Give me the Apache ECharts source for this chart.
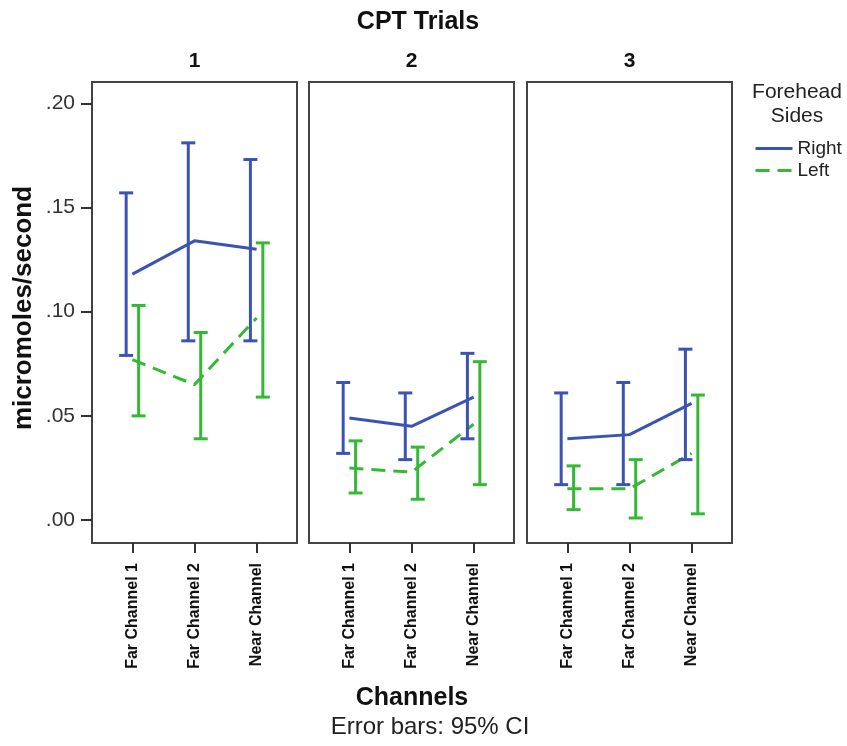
<!DOCTYPE html>
<html>
<head>
<meta charset="utf-8">
<script src="https://cdn.jsdelivr.net/npm/echarts@6/dist/echarts.min.js"></script>
<style>
    html, body { margin: 0; padding: 0; background: #fff; }
    #chart { width: 847px; height: 746px; }
</style>
</head>
<body>
<div id="chart"></div>
<script>
var channels = ['Far Channel 1', 'Far Channel 2', 'Near Channel'];
var trials = ['1', '2', '3'];
var yTicks = [0, 0.05, 0.10, 0.15, 0.20];

// one row per CPT trial, one value per channel
var rightMean = [[0.118, 0.134, 0.130], [0.049, 0.045, 0.059], [0.039, 0.041, 0.056]];
var rightLow = [[0.079, 0.086, 0.086], [0.032, 0.029, 0.039], [0.017, 0.017, 0.029]];
var rightHigh = [[0.157, 0.181, 0.173], [0.066, 0.061, 0.080], [0.061, 0.066, 0.082]];

var leftMean = [[0.077, 0.065, 0.097], [0.025, 0.023, 0.046], [0.015, 0.015, 0.032]];
var leftLow = [[0.050, 0.039, 0.059], [0.013, 0.010, 0.017], [0.005, 0.001, 0.003]];
var leftHigh = [[0.103, 0.090, 0.133], [0.038, 0.035, 0.076], [0.026, 0.029, 0.060]];

var blue = '#3b54b4';
var green = '#35b935';
var font = 'Liberation Sans, Arial, sans-serif';

var panelLeft = [92, 309, 527];
var panelWidth = 205;

var chart = echarts.init(document.getElementById('chart'), null, {renderer: 'canvas'});

function renderErrorBar(params, api) {
    var x = api.value(0);
    var lo = api.coord([x, api.value(1)]);
    var hi = api.coord([x, api.value(2)]);
    var half = 7;
    var style = {stroke: api.visual('color'), lineWidth: 3};
    return {
        type: 'group',
        children: [
            {type: 'line', shape: {x1: lo[0], y1: lo[1], x2: hi[0], y2: hi[1]}, style: style},
            {type: 'line', shape: {x1: lo[0] - half, y1: lo[1], x2: lo[0] + half, y2: lo[1]}, style: style},
            {type: 'line', shape: {x1: hi[0] - half, y1: hi[1], x2: hi[0] + half, y2: hi[1]}, style: style}
        ]
    };
}

var grids = [], xAxes = [], yAxes = [], series = [], graphics = [];

for (var p = 0; p < trials.length; p++) {
    grids.push({
        left: panelLeft[p], width: panelWidth, top: 82, bottom: 203,
        show: true, borderColor: '#444', borderWidth: 2, backgroundColor: '#fff'
    });
    xAxes.push({
        type: 'value', gridIndex: p, min: 0.35, max: 3.65,
        splitLine: {show: false},
        axisLine: {show: false, onZero: false},
        axisTick: {show: true, customValues: [1, 2, 3], length: 10, lineStyle: {color: '#333', width: 2}},
        axisLabel: {
            customValues: [1, 2, 3], rotate: 90, margin: 20,
            fontFamily: font, fontSize: 16, fontWeight: 'bold', color: '#111',
            formatter: function (v) { return channels[Math.round(v) - 1]; }
        }
    });
    yAxes.push({
        type: 'value', gridIndex: p, min: -0.011, max: 0.2102,
        splitLine: {show: false},
        axisLine: {show: false, onZero: false},
        axisTick: {show: p === 0, customValues: yTicks, length: 11, lineStyle: {color: '#333', width: 2}},
        axisLabel: {
            show: p === 0, customValues: yTicks, margin: 17,
            fontFamily: font, fontSize: 21, color: '#333',
            formatter: function (v) { return v.toFixed(2).replace(/^0/, ''); }
        }
    });

    var rLine = [], lLine = [], rErr = [], lErr = [];
    for (var c = 0; c < channels.length; c++) {
        rLine.push([c + 1, rightMean[p][c]]);
        lLine.push([c + 1, leftMean[p][c]]);
        rErr.push([c + 1 - 0.1, rightLow[p][c], rightHigh[p][c]]);
        lErr.push([c + 1 + 0.1, leftLow[p][c], leftHigh[p][c]]);
    }
    series.push({
        name: 'Right', type: 'line', xAxisIndex: p, yAxisIndex: p,
        symbol: 'none', data: rLine, color: blue,
        lineStyle: {color: blue, width: 3}, z: 3
    });
    series.push({
        name: 'Left', type: 'line', xAxisIndex: p, yAxisIndex: p,
        symbol: 'none', data: lLine, color: green,
        lineStyle: {color: green, width: 3, type: [14, 8]}, z: 3
    });
    series.push({
        type: 'custom', xAxisIndex: p, yAxisIndex: p, renderItem: renderErrorBar,
        data: rErr, itemStyle: {color: blue}, z: 4, encode: {x: 0, y: [1, 2]}
    });
    series.push({
        type: 'custom', xAxisIndex: p, yAxisIndex: p, renderItem: renderErrorBar,
        data: lErr, itemStyle: {color: green}, z: 4, encode: {x: 0, y: [1, 2]}
    });

    graphics.push({
        type: 'text', x: panelLeft[p] + panelWidth / 2, y: 61,
        style: {text: trials[p], font: 'bold 21px ' + font, fill: '#111', textAlign: 'center', textVerticalAlign: 'middle'}
    });
}

graphics.push({
    type: 'text', x: 418, y: 22,
    style: {text: 'CPT Trials', font: 'bold 25px ' + font, fill: '#111', textAlign: 'center', textVerticalAlign: 'middle'}
});
graphics.push({
    type: 'text', x: 24, y: 308, rotation: Math.PI / 2,
    style: {text: 'micromoles/second', font: 'bold 26px ' + font, fill: '#111', textAlign: 'center', textVerticalAlign: 'middle'}
});
graphics.push({
    type: 'text', x: 412, y: 698,
    style: {text: 'Channels', font: 'bold 25px ' + font, fill: '#111', textAlign: 'center', textVerticalAlign: 'middle'}
});
graphics.push({
    type: 'text', x: 430, y: 727,
    style: {text: 'Error bars: 95% CI', font: '24px ' + font, fill: '#222', textAlign: 'center', textVerticalAlign: 'middle'}
});
graphics.push({
    type: 'text', x: 797, y: 104,
    style: {text: 'Forehead\nSides', font: '21px ' + font, fill: '#222', textAlign: 'center', textVerticalAlign: 'middle', lineHeight: 24}
});

chart.setOption({
    backgroundColor: '#fff',
    animation: false,
    legend: {
        data: ['Right', 'Left'],
        orient: 'vertical',
        left: 754, top: 139,
        itemWidth: 37, itemHeight: 14, itemGap: 3,
        padding: 0,
        itemStyle: {opacity: 0},
        lineStyle: {width: 3},
        textStyle: {fontFamily: font, fontSize: 19, color: '#222'}
    },
    grid: grids,
    xAxis: xAxes,
    yAxis: yAxes,
    series: series,
    graphic: graphics
});
</script>
</body>
</html>
